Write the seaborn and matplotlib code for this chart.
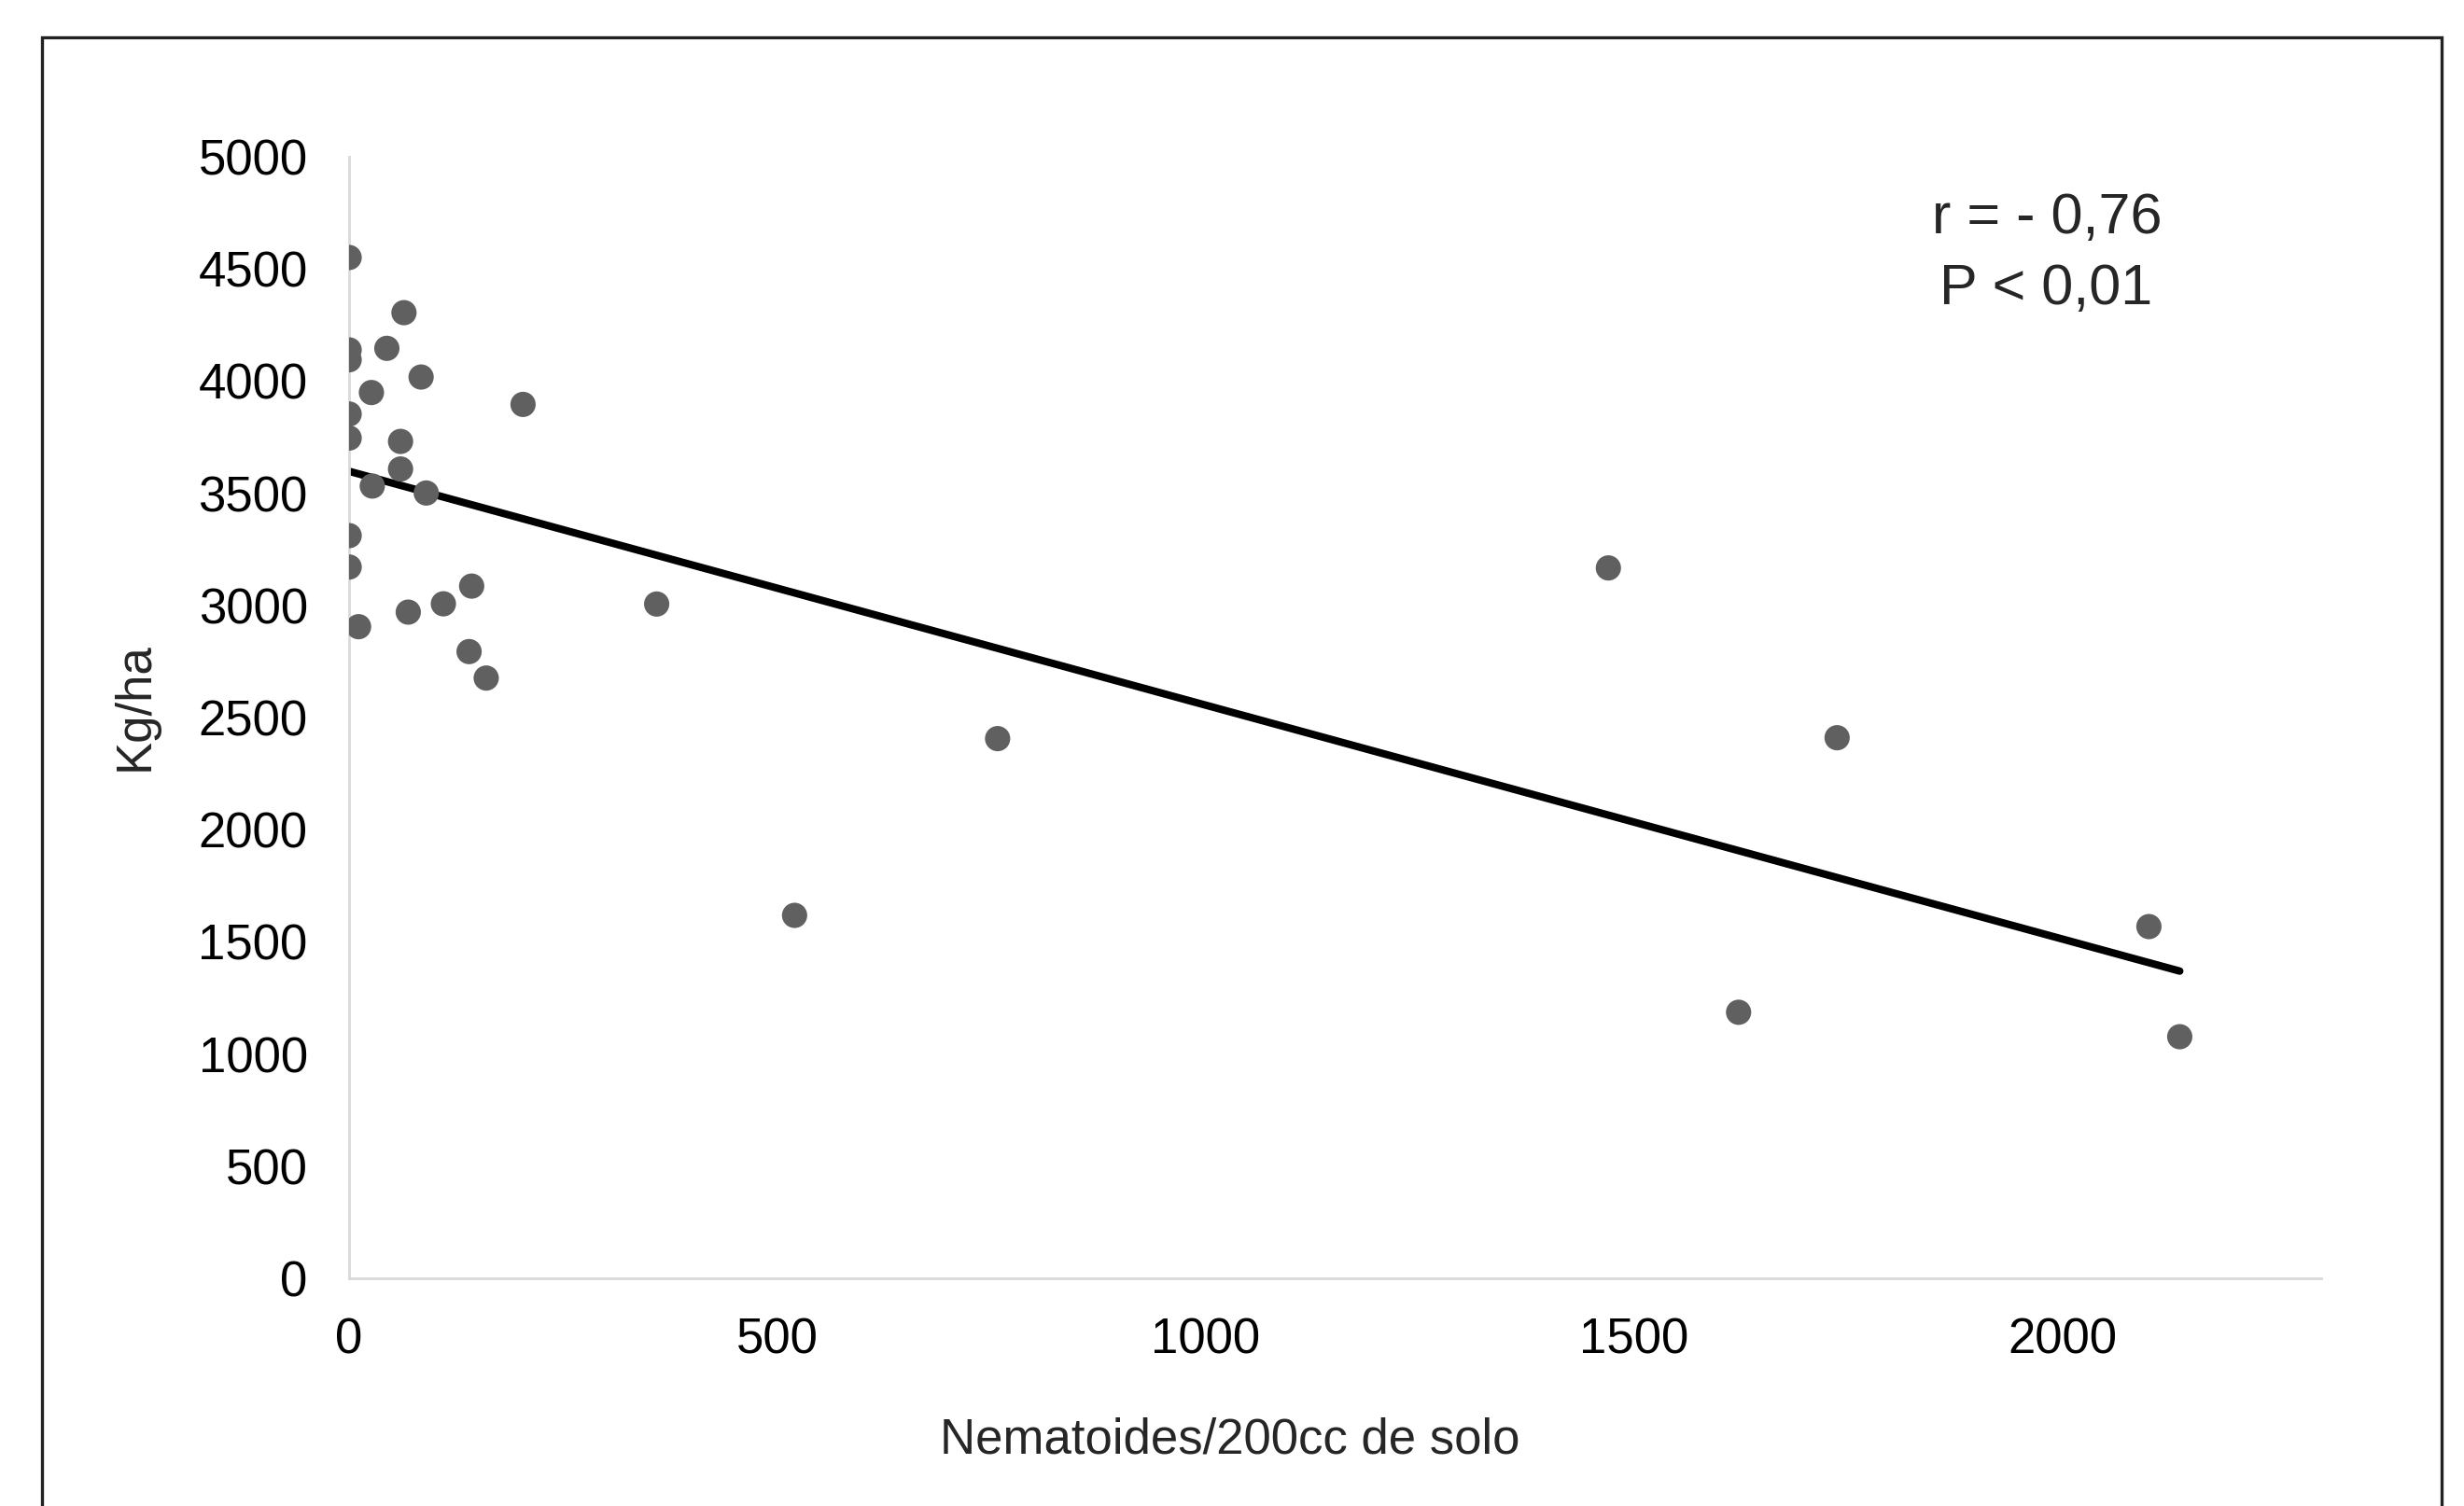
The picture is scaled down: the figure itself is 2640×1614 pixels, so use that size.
import matplotlib
matplotlib.use("Agg")
import matplotlib.pyplot as plt
from matplotlib.patches import Rectangle
import seaborn as sns
import pandas as pd

# Nematode count vs. yield
nematoides = [0, 64, 0, 0, 44, 84, 26, 203, 0, 0, 60, 60, 27, 90, 0, 0,
              143, 110, 69, 11, 140, 160, 359, 757, 520, 1470, 1737, 1622,
              2101, 2137]
kg_ha = [4551, 4305, 4139, 4095, 4146, 4018, 3949, 3896, 3853, 3746, 3731,
         3608, 3532, 3501, 3311, 3171, 3086, 3007, 2970, 2905, 2794, 2676,
         3006, 2406, 1618, 3167, 2410, 1186, 1568, 1077]

y_ticks = [0, 500, 1000, 1500, 2000, 2500, 3000, 3500, 4000, 4500, 5000]
x_ticks = [0, 500, 1000, 1500, 2000]
stats_text = ["r = - 0,76", "P < 0,01"]

df = pd.DataFrame({"x": nematoides, "y": kg_ha})

sns.set_theme(style="white")
plt.rcParams["font.family"] = ["Liberation Sans", "DejaVu Sans"]

fig = plt.figure(figsize=(13.2, 8.07), dpi=200)
ax = fig.add_axes([0.1417, 0.1512, 0.8003, 0.7447])

sns.regplot(data=df, x="x", y="y", ax=ax, ci=None,
            scatter_kws={"s": 95, "color": "#606060", "alpha": 1,
                         "edgecolor": "none", "zorder": 3},
            line_kws={"color": "black", "linewidth": 2.9, "zorder": 2,
                      "solid_capstyle": "round"})

ax.set_xlim(0, 2302)
ax.set_ylim(0, 5000)
ax.set_xticks(x_ticks)
ax.set_yticks(y_ticks)
ax.tick_params(axis="both", length=0, labelsize=19, colors="black")
ax.tick_params(axis="y", pad=16)
ax.tick_params(axis="x", pad=15)

for side in ["top", "right"]:
    ax.spines[side].set_visible(False)
for side in ["left", "bottom"]:
    ax.spines[side].set_color("#d9d9d9")
    ax.spines[side].set_linewidth(1.0)

ax.set_xlabel("")
ax.set_ylabel("")
fig.text(1318 / 2640, 1 - 1543 / 1614, "Nematoides/200cc de solo",
         ha="center", va="center", fontsize=19)
fig.text(145 / 2640, 1 - 757 / 1614, "Kg/ha", ha="center", va="center",
         rotation=90, fontsize=19)

# r / P annotation
narrow = ["Liberation Sans Narrow", "Liberation Sans", "DejaVu Sans"]
fig.text(2193 / 2640, 1 - 234 / 1614, stats_text[0], ha="center",
         va="center", fontsize=22, family=narrow)
fig.text(2192 / 2640, 1 - 310 / 1614, stats_text[1], ha="center",
         va="center", fontsize=22, family=narrow)

# outer frame (bottom edge runs off the image)
fig.patches.append(Rectangle((45 / 2640, -0.1), (2616 - 45) / 2640,
                             1 - 40 / 1614 + 0.1, transform=fig.transFigure,
                             fill=False, edgecolor="#222222", linewidth=1.2))

fig.savefig("out.png", dpi=200)
